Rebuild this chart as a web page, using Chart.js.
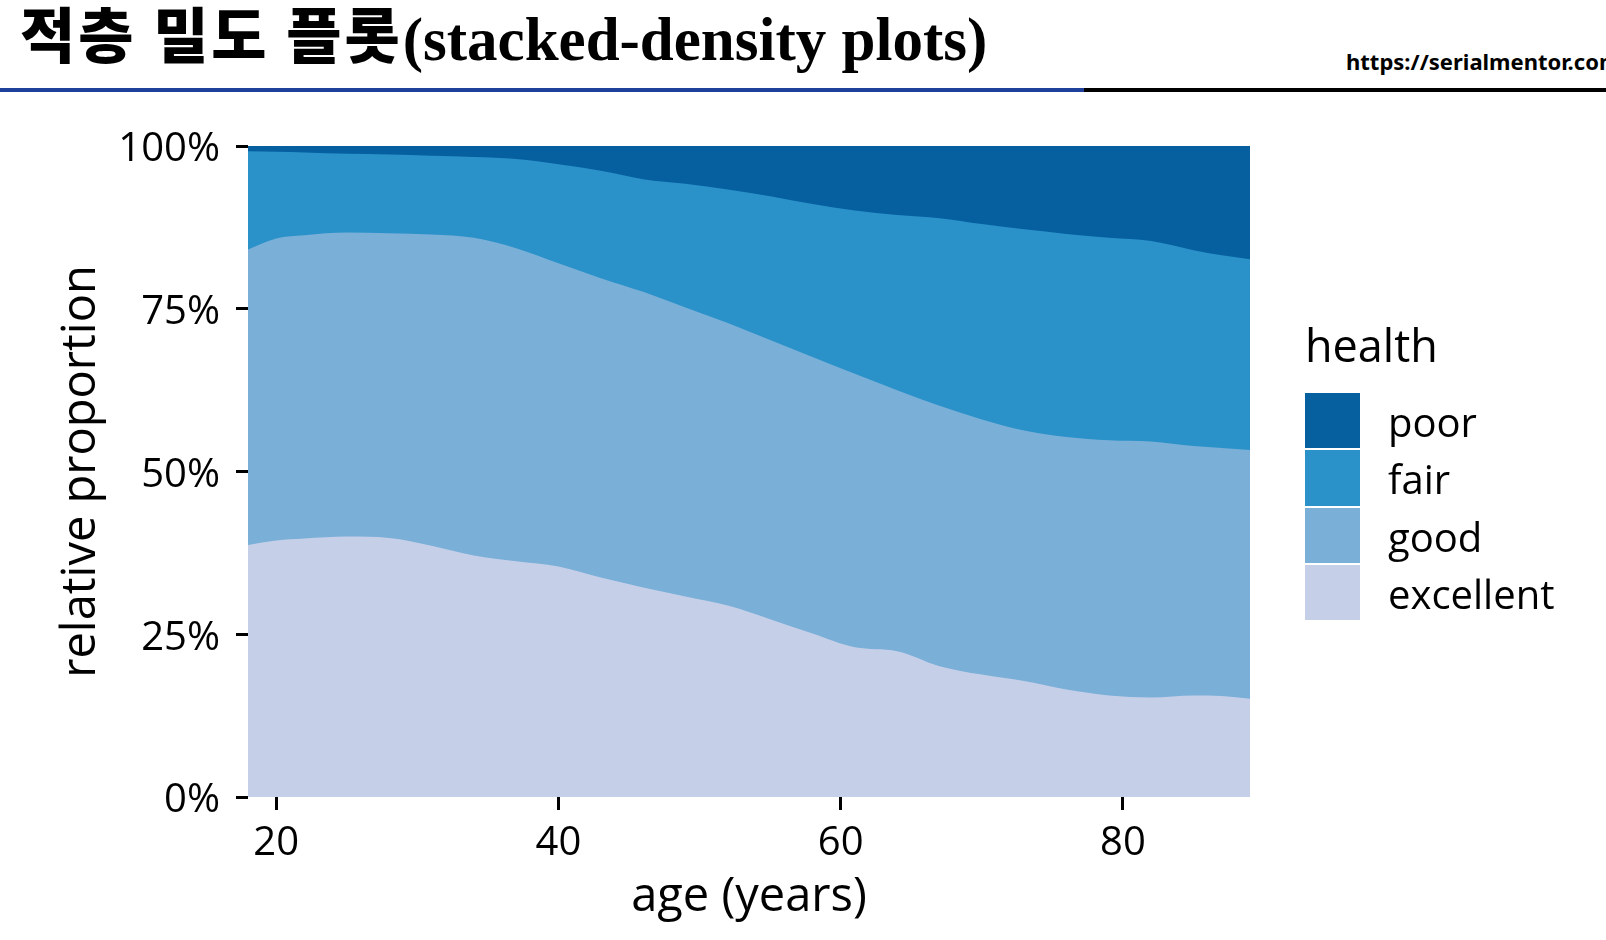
<!DOCTYPE html>
<html>
<head>
<meta charset="utf-8">
<script src="https://cdn.jsdelivr.net/npm/chart.js@4.4.0/dist/chart.umd.min.js"></script>
<style>
    html, body { margin: 0; padding: 0; background: #fff; width: 1606px; height: 940px; overflow: hidden; }
    body { position: relative; }
    #title { position: absolute; left: 20px; top: 2px; white-space: nowrap; color: #000;
             font-family: "Noto Sans CJK KR"; font-size: 60px; line-height: 60px; }
    #title .ko { font-weight: 900; letter-spacing: 3px; }
    #title .en { font-family: "Liberation Serif"; font-weight: bold; font-size: 61px; position: relative; top: 2px; }
    #url { position: absolute; left: 1346px; top: 50px; font-family: "Noto Sans"; font-weight: bold;
           font-size: 22px; line-height: 22px; color: #000; white-space: nowrap; }
    #ruleBlue { position: absolute; left: 0; top: 88px; width: 1084px; height: 4px; background: #1f409b; }
    #ruleBlack { position: absolute; left: 1084px; top: 88px; width: 522px; height: 4px; background: #000; }
    #chart { position: absolute; left: 0; top: 0; }
    #legend { position: absolute; left: 1305px; top: 322px; font-family: "Open Sans"; color: #000; }
    #legend .ttl { font-size: 45px; line-height: 45px; height: 71px; }
    #legend .row { display: flex; align-items: center; height: 57.3px; }
    #legend .sw { width: 55px; height: 55.3px; margin-bottom: 2px; }
    #legend .lab { font-size: 40px; line-height: 57px; margin-left: 28px; }
</style>
</head>
<body>
<div id="title"><span class="ko">적층 밀도 플롯</span><span class="en">(stacked-density plots)</span></div>
<div id="url">https://serialmentor.com</div>
<div id="ruleBlue"></div>
<div id="ruleBlack"></div>
<canvas id="chart" width="1606" height="940"></canvas>
<div id="legend"></div>

<script>
// 나이(년)
const ages = [18, 20, 22, 25, 28, 31, 34, 37, 40, 43, 46, 49, 52, 55, 58, 61, 64, 67, 70, 73, 76, 79, 82, 85, 87, 89];

// 건강 상태별 비율(%)
const excellent = [38.7, 39.4, 39.7, 40.0, 39.8, 38.6, 37.1, 36.2, 35.4, 33.7, 32.2, 30.8, 29.4, 27.3, 25.1, 23.0, 22.4, 20.1, 18.8, 17.8, 16.5, 15.6, 15.3, 15.6, 15.5, 15.1];
const good      = [45.4, 46.4, 46.6, 46.7, 46.8, 47.8, 48.8, 48.1, 46.6, 46.0, 45.4, 44.4, 43.4, 42.9, 42.5, 42.0, 40.1, 40.0, 39.2, 38.5, 38.8, 39.2, 39.3, 38.3, 38.1, 38.2];
const fair      = [15.1, 13.3, 12.7, 12.1, 12.1, 12.1, 12.4, 13.7, 15.2, 16.5, 17.3, 19.0, 20.5, 22.1, 23.5, 25.1, 26.9, 28.8, 30.0, 30.9, 31.2, 31.1, 30.8, 30.1, 29.6, 29.3];
const poor      = [0.8, 0.9, 1.0, 1.2, 1.3, 1.5, 1.7, 2.0, 2.8, 3.8, 5.1, 5.8, 6.7, 7.7, 8.9, 9.9, 10.6, 11.1, 12.0, 12.8, 13.5, 14.1, 14.6, 16.0, 16.8, 17.4];

const levels = ["excellent", "good", "fair", "poor"];
const levelColors = ["#c6cfe8", "#7aafd8", "#2a92c9", "#0660a0"];
const xTicks = [20, 40, 60, 80];
const yTicks = [0, 25, 50, 75, 100];

const series = [excellent, good, fair, poor];

const datasets = series.map((vals, i) => ({
    label: levels[i],
    data: ages.map((a, j) => ({ x: a, y: vals[j] })),
    backgroundColor: levelColors[i],
    borderWidth: 0,
    pointRadius: 0,
    fill: "origin",
    cubicInterpolationMode: "monotone"
}));

const tickFont = { family: "Open Sans", size: 40 };

new Chart(document.getElementById("chart"), {
    type: "line",
    data: { datasets: datasets },
    options: {
        responsive: false,
        animation: false,
        devicePixelRatio: 1,
        layout: { padding: { left: 0, top: 146, right: 356, bottom: 0 } },
        plugins: { legend: { display: false }, tooltip: { enabled: false } },
        scales: {
            x: {
                type: "linear",
                min: 18,
                max: 89,
                afterBuildTicks: s => { s.ticks = xTicks.map(v => ({ value: v })); },
                afterFit: s => { s.height = 143; },
                grid: { display: true, drawOnChartArea: false, drawTicks: true, tickLength: 13, tickWidth: 3, tickColor: "#000" },
                border: { display: false },
                ticks: { font: tickFont, color: "#000", padding: 10, maxRotation: 0 },
                title: { display: true, text: "age (years)", color: "#000",
                         font: { family: "Open Sans", size: 47 }, padding: { top: 0, bottom: 14 } }
            },
            y: {
                stacked: true,
                min: 0,
                max: 100,
                afterBuildTicks: s => { s.ticks = yTicks.map(v => ({ value: v })); },
                afterFit: s => { s.width = 248; },
                grid: { display: true, drawOnChartArea: false, drawTicks: true, tickLength: 12, tickWidth: 3, tickColor: "#000" },
                border: { display: false },
                ticks: { font: tickFont, color: "#000", padding: 16, labelOffset: 4, callback: v => v + "%" },
                title: { display: true, text: "relative proportion", color: "#000",
                         font: { family: "Open Sans", size: 47 }, padding: { top: 53, bottom: 0 } }
            }
        }
    }
});

// 범례
let legendHtml = `<div class="ttl">health</div>`;
for (let i = levels.length - 1; i >= 0; i--) {
    legendHtml += `<div class="row"><div class="sw" style="background:${levelColors[i]}"></div><div class="lab">${levels[i]}</div></div>`;
}
document.getElementById("legend").innerHTML = legendHtml;
</script>
</body>
</html>
